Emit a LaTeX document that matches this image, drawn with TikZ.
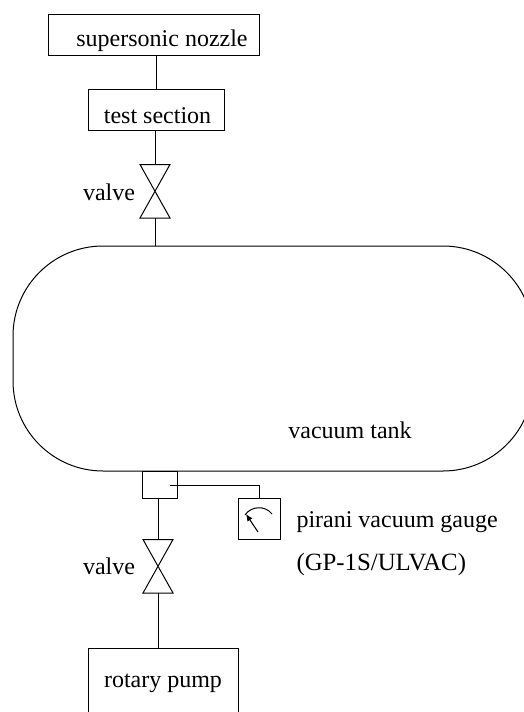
\documentclass[tikz,border=0pt]{standalone}
\usepackage{fontspec}
\setmainfont{Liberation Serif}
\usetikzlibrary{positioning, arrows.meta}
\tikzset{
	box/.style={draw=black, inner sep=0pt},
	lbl/.style={inner sep=0pt, font=\fontsize{24}{28}\selectfont},
	valveline/.style={draw=black, line width=1pt},
}
\begin{document}
\begin{tikzpicture}[x=1pt, y=-1pt, line width=1pt]
	\useasboundingbox (0, 0) rectangle (524, 712);
	\node [box, minimum width=211pt, minimum height=41pt] (nozzle) at (153.5, 34.5) {};
	\node [box, minimum width=136pt, minimum height=41pt] (testsection) at (156, 109.5) {};
	\node [box, minimum width=520pt, minimum height=225pt, rounded corners=90pt] (tank) at (273, 358.5) {};
	\node [box, minimum width=35pt, minimum height=27pt] (fitting) at (159.5, 484.5) {};
	\node [box, minimum width=42pt, minimum height=41pt] (gauge) at (259, 518.5) {};
	\node [box, minimum width=150pt, minimum height=80pt] (pump) at (163, 688) {};
	% valves
	\coordinate (valveonetop) at (155, 164.5);
	\coordinate (valveonebot) at (155, 218);
	\coordinate (valvetwotop) at (158, 539.5);
	\coordinate (valvetwobot) at (158, 593);
	\filldraw [valveline, fill=white] (140, 164.5) -- (170, 164.5) -- (140, 218) -- (170, 218) -- cycle;
	\filldraw [valveline, fill=white] (143, 539.5) -- (173, 539.5) -- (143, 593) -- (173, 593) -- cycle;
	% connectors
	\draw (nozzle.south -| testsection.north) -- (testsection.north);
	\draw (testsection.south -| valveonetop) -- (valveonetop);
	\draw (valveonebot) -- (tank.north -| valveonebot);
	\draw (fitting.south -| valvetwotop) -- (valvetwotop);
	\draw (valvetwobot) -- (pump.north -| valvetwobot);
	\coordinate (tap) at (170, 485);
	\draw (tap) -| (gauge.north);
	% gauge dial
	\draw (245, 515) .. controls (251, 506) and (265, 505) .. (272, 514);
	\draw [-{Latex[length=7pt, width=6pt]}] (258, 532) -- (246, 514);
	% labels
	\node [lbl] (nozzlelabel) at (162, 41) {supersonic nozzle};
	\node [lbl] (testlabel) at (157.5, 116) {test section};
	\node [lbl, anchor=east] (valveonelabel) at (135.5, 192) {valve};
	\node [lbl] (tanklabel) at (350, 430) {vacuum tank};
	\node [lbl, anchor=east] (valvetwolabel) at (135.5, 566) {valve};
	\node [lbl, anchor=west] (gaugelabel) at (296, 522) {pirani vacuum gauge};
	\node [lbl, anchor=west, font=\fontsize{24.8}{28}\selectfont] (modellabel) at (296, 565) {(GP-1S/ULVAC)};
	\node [lbl] (pumplabel) at (163, 683) {rotary pump};
\end{tikzpicture}
\end{document}
